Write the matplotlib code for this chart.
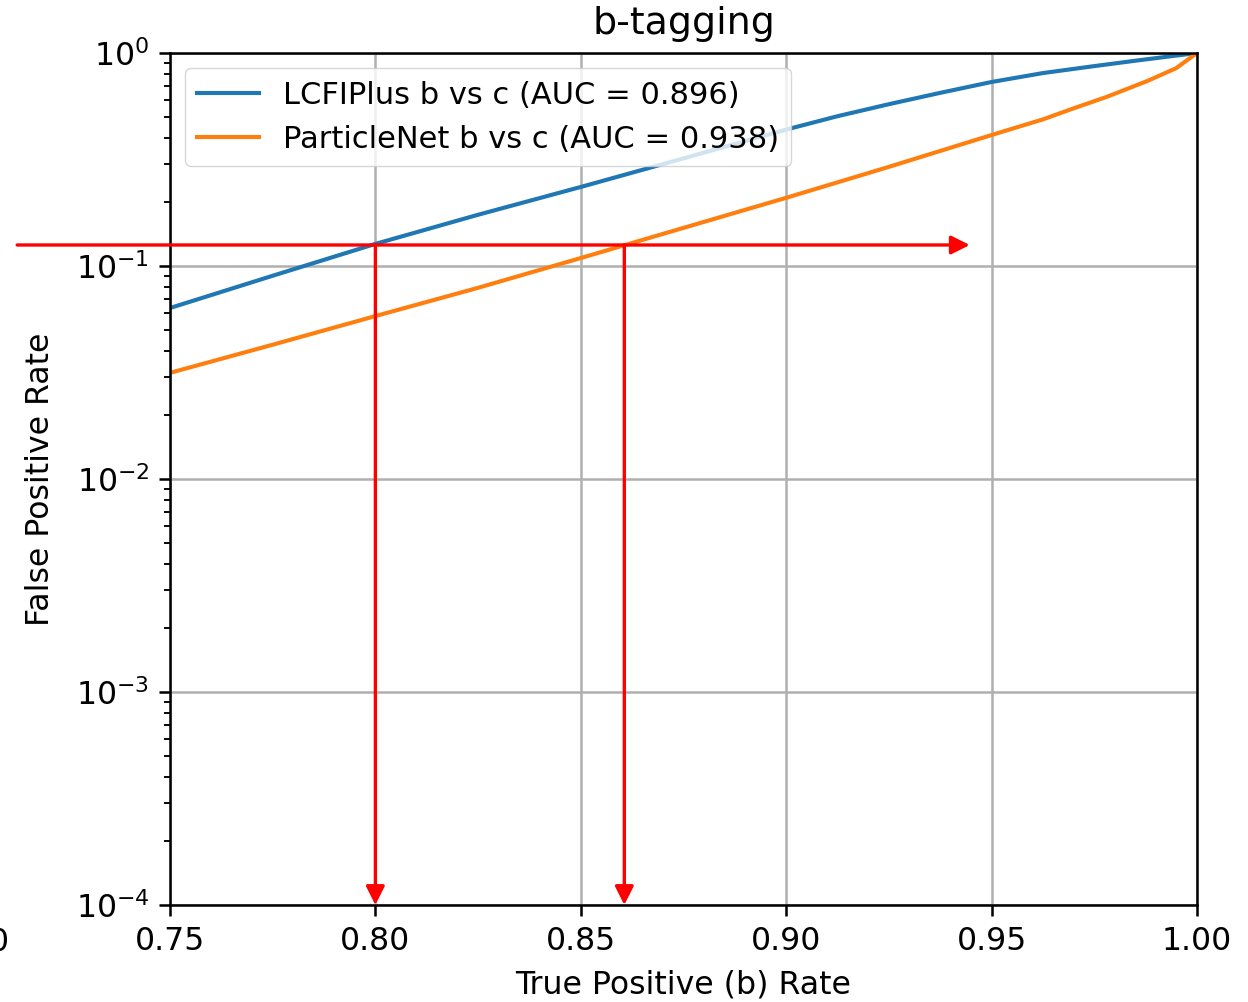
import numpy as np
import matplotlib
matplotlib.use("Agg")
from matplotlib import pyplot as plt

# ROC points (true positive rate -> false positive rate)
tpr_lcfi = [0.75, 0.775, 0.80, 0.825, 0.85, 0.875, 0.90, 0.9125, 0.925, 0.9375,
            0.95, 0.9625, 0.975, 0.985, 0.993, 1.00]
fpr_lcfi = [0.0635, 0.090, 0.127, 0.174, 0.235, 0.320, 0.437, 0.505, 0.575, 0.650,
            0.731, 0.805, 0.868, 0.920, 0.962, 1.0]
tpr_pnet = [0.75, 0.775, 0.80, 0.825, 0.85, 0.875, 0.90, 0.925, 0.95, 0.9625,
            0.97, 0.978, 0.988, 0.995, 1.00]
fpr_pnet = [0.0315, 0.0427, 0.0582, 0.079, 0.109, 0.151, 0.209, 0.292, 0.412, 0.488,
            0.550, 0.622, 0.740, 0.850, 1.0]

labels = ["LCFIPlus b vs c (AUC = 0.896)", "ParticleNet b vs c (AUC = 0.938)"]

# working point marked with red arrows
wp_fpr = 0.1255
wp_tpr = [0.80, 0.8606]
hline_x = (0.7128, 0.9447)

s = 2.27  # scale from default sizes

if __name__ == '__main__':
    fig = plt.figure(figsize=(12.48, 10.02), dpi=100)
    ax = fig.add_axes([0.1362, 0.0968, 0.9591 - 0.1362, 0.9471 - 0.0968])

    ax.plot(tpr_lcfi, fpr_lcfi, color="#1f77b4", lw=1.3 * s, label=labels[0])
    ax.plot(tpr_pnet, fpr_pnet, color="#ff7f0e", lw=1.3 * s, label=labels[1])

    ax.set_yscale("log")
    ax.set_xlim(0.75, 1.0)
    ax.set_ylim(1e-4, 1)
    ax.grid(True, which="major", color="#b0b0b0", lw=0.8 * s)
    ax.set_axisbelow(True)

    ax.tick_params(which="major", labelsize=10 * s, length=3.5 * s, width=0.8 * s, pad=7)
    ax.tick_params(which="minor", length=2 * s, width=0.6 * s)
    for sp in ax.spines.values():
        sp.set_linewidth(0.8 * s)

    ax.set_xlabel("True Positive (b) Rate", fontsize=10 * s, labelpad=9)
    ax.set_ylabel("False Positive Rate", fontsize=10 * s, labelpad=14)
    ax.set_title("b-tagging", fontsize=12 * s, pad=14)

    ax.legend(loc="upper left", fontsize=22, handlelength=2.0, borderaxespad=0.5)

    # red arrows
    arr = dict(arrowstyle="-|>", color="red", lw=2.4, mutation_scale=28,
               shrinkA=0, shrinkB=0)
    ax.annotate("", xy=(hline_x[1], wp_fpr), xytext=(hline_x[0], wp_fpr),
                arrowprops=arr, annotation_clip=False, zorder=5)
    for x in wp_tpr:
        ax.annotate("", xy=(x, 1e-4), xytext=(x, wp_fpr),
                    arrowprops=arr, annotation_clip=False, zorder=5)

    # clipped leftover label at the left edge
    fig.text(0.007, 0.059, "0", fontsize=10 * s, ha="right", va="center")

    fig.savefig("out.png", dpi=100)
